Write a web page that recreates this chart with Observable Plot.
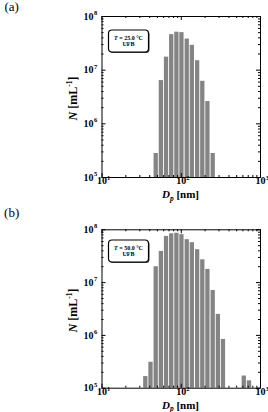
<!DOCTYPE html>
<html><head><meta charset="utf-8">
<script src="https://cdn.jsdelivr.net/npm/d3@7"></script>
<script src="https://cdn.jsdelivr.net/npm/@observablehq/plot@0.6"></script>
<style>
body{margin:0;background:#fff;width:268px;height:412px;overflow:hidden;position:relative;font-family:"Liberation Serif",serif}
.panel{position:absolute;left:0}
.panel svg{overflow:visible}
</style></head><body>
<div id="a" class="panel" style="top:0"></div>
<div id="b" class="panel" style="top:205px"></div>
<script>
// Bin centres (nm) and number concentrations (mL^-1)
const binCentersA = [48.3, 56.1, 65.2, 75.8, 88.1, 102, 119, 138, 161, 187, 217, 253];
const countsA = [2.8e5, 6.4e6, 1.75e7, 4.6e7, 5.1e7, 5.0e7, 3.8e7, 2.9e7, 1.5e7, 6.2e6, 2.6e6, 2.8e5];
const binCentersB = [35.7, 41.5, 48.3, 56.1, 65.2, 75.8, 88.1, 102, 119, 138, 161, 187, 217, 253, 294, 341, 624, 726];
const countsB = [1.66e5, 3.1e5, 2.0e7, 3.9e7, 7.5e7, 8.4e7, 8.6e7, 8.1e7, 6.5e7, 5.7e7, 4.2e7, 2.7e7, 1.78e7, 7.1e6, 2.5e6, 8.4e5, 1.7e5, 1.38e5];
const binLogWidth = 0.0654;
const xMajor = [10, 100, 1000];
const xExp = ["1", "2", "3"];
const yMajor = [1e5, 1e6, 1e7, 1e8];
const yExp = ["5", "6", "7", "8"];
const panelLabels = ["(a)", "(b)"];
const temps = ["25.0", "50.0"];
const legendSample = "UFB";

function minors(lo, hi) {
  const out = [];
  for (let d = lo; d < hi; d *= 10) for (let k = 2; k <= 9; k++) out.push(k * d);
  return out;
}
const xMinor = minors(10, 1000);
const yMinor = minors(1e5, 1e8);

function panel(el, centers, counts, o) {
  const half = Math.pow(10, binLogWidth / 2);
  const data = centers.map((c, i) => ({x1: c / half, x2: c * half, n: counts[i]}));
  const innerH = o.height - o.top - o.bottom;
  const innerW = 268 - 101.5 - 8;
  const F = "Liberation Serif";
  const svg = Plot.plot({
    width: 268, height: o.height,
    marginLeft: 101.5, marginRight: 8, marginTop: o.top, marginBottom: o.bottom,
    x: {type: "log", domain: [10, 1000], axis: null},
    y: {type: "log", domain: [1e5, 1e8], axis: null},
    style: {fontFamily: F, background: "transparent", overflow: "visible"},
    marks: [
      Plot.rect(data, {x1: "x1", x2: "x2", y1: 1e5, y2: "n", fill: "#848484", insetLeft: 0.45, insetRight: 0.45}),
      Plot.tickX(xMinor, {x: d => d, insetTop: innerH - 2, stroke: "black"}),
      Plot.tickX(xMinor, {x: d => d, insetBottom: innerH - 2, stroke: "black"}),
      Plot.tickX(xMajor, {x: d => d, insetTop: innerH - 4, stroke: "black"}),
      Plot.tickX(xMajor, {x: d => d, insetBottom: innerH - 4, stroke: "black"}),
      Plot.tickY(yMinor, {y: d => d, insetRight: innerW - 2, stroke: "black"}),
      Plot.tickY(yMinor, {y: d => d, insetLeft: innerW - 2, stroke: "black"}),
      Plot.tickY(yMajor, {y: d => d, insetRight: innerW - 4, stroke: "black"}),
      Plot.tickY(yMajor, {y: d => d, insetLeft: innerW - 4, stroke: "black"}),
      Plot.frame({stroke: "black", strokeWidth: 1}),
      Plot.text(xMajor, {x: d => d, frameAnchor: "bottom", text: () => "10", dy: 6.3, fontSize: 10, fontWeight: "bold", fill: "black"}),
      Plot.text(xMajor, {x: d => d, frameAnchor: "bottom", text: (d, i) => xExp[i], dx: 5, dy: 2.6, fontSize: 6.5, fontWeight: "bold", textAnchor: "start", fill: "black"}),
      Plot.text(yMajor, {y: d => d, frameAnchor: "left", text: () => "10", dx: -8.5, fontSize: 10, fontWeight: "bold", textAnchor: "end", fill: "black"}),
      Plot.text(yMajor, {y: d => d, frameAnchor: "left", text: (d, i) => yExp[i], dx: -4.8, dy: -3.6, fontSize: 6.5, fontWeight: "bold", textAnchor: "end", fill: "black"})
    ]
  });
  const s = d3.select(svg);
  const bottomY = o.height - o.bottom;
  // panel letter
  s.append("text").attr("x", 11.7).attr("y", o.letterY).attr("font-family", F).attr("font-size", 13).text(o.letter);
  // y label
  const yl = s.append("text")
    .attr("transform", `translate(76.5,${(o.top + bottomY) / 2 + 2}) rotate(-90)`)
    .attr("text-anchor", "middle").attr("font-family", F).attr("font-size", 12).attr("font-weight", "bold");
  yl.append("tspan").attr("font-style", "italic").text("N");
  yl.append("tspan").text(" [mL");
  yl.append("tspan").attr("font-size", 7.5).attr("dy", -4.8).text("-1");
  yl.append("tspan").attr("dy", 4.8).text("]");
  // x label
  const xl = s.append("text").attr("x", 180.5).attr("y", bottomY + 21)
    .attr("text-anchor", "middle").attr("font-family", F).attr("font-size", 11).attr("font-weight", "bold");
  xl.append("tspan").attr("font-style", "italic").text("D");
  xl.append("tspan").attr("font-style", "italic").attr("font-size", 7.5).attr("dy", 2.5).text("p");
  xl.append("tspan").attr("dy", -2.5).text(" [nm]");
  // legend box
  const g = s.append("g");
  g.append("rect").attr("x", 109.5).attr("y", o.boxY + 1).attr("width", 40).attr("height", 22).attr("rx", 3.5).attr("fill", "#444");
  g.append("rect").attr("x", 108.5).attr("y", o.boxY).attr("width", 40).attr("height", 22).attr("rx", 3.5)
    .attr("fill", "white").attr("stroke", "black").attr("stroke-width", 1.2);
  const t1 = g.append("text").attr("x", 128.5).attr("y", o.boxY + 9.5).attr("text-anchor", "middle")
    .attr("font-family", F).attr("font-size", 6).attr("font-weight", "bold");
  t1.append("tspan").attr("font-style", "italic").text("T");
  t1.append("tspan").text(` = ${o.temp} °C`);
  g.append("text").attr("x", 128.5).attr("y", o.boxY + 15.5).attr("text-anchor", "middle")
    .attr("font-family", F).attr("font-size", 6).attr("font-weight", "bold").text(legendSample);
  el.appendChild(svg);
}

panel(document.getElementById("a"), binCentersA, countsA,
  {height: 205, top: 16, bottom: 28, letter: panelLabels[0], letterY: 10.5, temp: temps[0], boxY: 30});
panel(document.getElementById("b"), binCentersB, countsB,
  {height: 207, top: 24.3, bottom: 24.3, letter: panelLabels[1], letterY: 11.8, temp: temps[1], boxY: 35});
</script>
</body></html>
